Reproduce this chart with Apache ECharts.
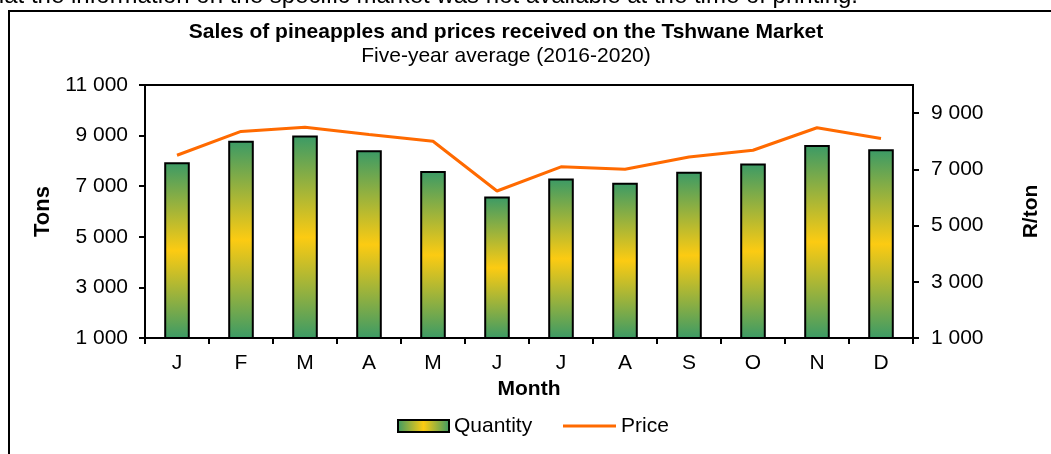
<!DOCTYPE html>
<html>
<head>
<meta charset="utf-8">
<script src="https://cdn.jsdelivr.net/npm/echarts@6/dist/echarts.min.js"></script>
<style>
html,body{margin:0;padding:0;background:#fff;}
#chart{width:1051px;height:454px;}
</style>
</head>
<body>
<div id="chart"></div>
<script>
var months = ['J','F','M','A','M','J','J','A','S','O','N','D'];
var quantity = [7950, 8800, 9000, 8420, 7600, 6590, 7300, 7140, 7570, 7900, 8630, 8460];
var price = [7500, 8350, 8500, 8240, 8000, 6230, 7090, 7000, 7440, 7680, 8480, 8100];
var leftTicks = [1000, 3000, 5000, 7000, 9000, 11000];
var rightTicks = [1000, 3000, 5000, 7000, 9000];
var seriesNames = ['Quantity', 'Price'];

var FONT = 'Liberation Sans, Arial, sans-serif';
var FS = 21;
function fmt(v){ return String(v).replace(/\B(?=(\d{3})+(?!\d))/g, ' '); }

var GREEN = '#3a9a66', YELLOW = '#fccb12', ORANGE = '#ff6a00';
var chart = echarts.init(document.getElementById('chart'));
var barGrad = new echarts.graphic.LinearGradient(0,0,0,1,[
  {offset:0,color:GREEN},{offset:0.5,color:YELLOW},{offset:1,color:GREEN}
]);
var legendGrad = new echarts.graphic.LinearGradient(0,0,1,0,[
  {offset:0,color:GREEN},{offset:0.5,color:YELLOW},{offset:1,color:GREEN}
]);
chart.setOption({
  backgroundColor:'#fff',
  animation:false,
  textStyle:{fontFamily:FONT},
  title:{
    text:'Sales of pineapples and prices received on the Tshwane Market',
    subtext:'Five-year average (2016-2020)',
    left:501, top:17, textAlign:'center', itemGap:3,
    textStyle:{fontFamily:FONT,fontSize:21,fontWeight:'bold',color:'#000'},
    subtextStyle:{fontFamily:FONT,fontSize:21,color:'#000'}
  },
  graphic:[
    {type:'rect', shape:{x:9,y:11,width:1100,height:500}, style:{fill:'none',stroke:'#000',lineWidth:2}, z:0},
    {type:'text', x:858, y:8, style:{text:'that the information on the specific market was not available at the time of printing.', fontFamily:FONT, fontSize:24, fill:'#000', align:'right', verticalAlign:'bottom'}},
    {type:'rect', shape:{x:398,y:420,width:51,height:12}, style:{fill:legendGrad,stroke:'#000',lineWidth:2}},
    {type:'text', x:454, y:426, style:{text:seriesNames[0], fontFamily:FONT, fontSize:FS, fill:'#000', align:'left', verticalAlign:'middle'}},
    {type:'line', shape:{x1:563,y1:426,x2:616,y2:426}, style:{stroke:ORANGE,lineWidth:3}},
    {type:'text', x:621, y:426, style:{text:seriesNames[1], fontFamily:FONT, fontSize:FS, fill:'#000', align:'left', verticalAlign:'middle'}}
  ],
  grid:{left:145, right:138, top:85, bottom:116, show:true, borderColor:'#000', borderWidth:2, containLabel:false},
  xAxis:{
    type:'category', data:months, boundaryGap:true,
    axisLine:{lineStyle:{color:'#000',width:2}},
    axisTick:{show:true, alignWithLabel:false, length:6, lineStyle:{color:'#000',width:2}},
    axisLabel:{color:'#000', fontSize:FS, fontFamily:FONT, margin:15},
    name:'Month', nameLocation:'middle', nameGap:41,
    nameTextStyle:{fontFamily:FONT,fontSize:21,fontWeight:'bold',color:'#000'}
  },
  yAxis:[
    {
      type:'value', min:1000, max:11000, position:'left',
      splitLine:{show:false},
      axisLine:{show:true, lineStyle:{color:'#000',width:2}},
      axisTick:{show:true, length:6, customValues:leftTicks, lineStyle:{color:'#000',width:2}},
      axisLabel:{color:'#000', fontSize:FS, fontFamily:FONT, margin:17, customValues:leftTicks, formatter:fmt},
      name:'Tons', nameLocation:'middle', nameRotate:90, nameGap:87,
      nameTextStyle:{fontFamily:FONT,fontSize:22,fontWeight:'bold',color:'#000'}
    },
    {
      type:'value', min:1000, max:10000, position:'right',
      splitLine:{show:false},
      axisLine:{show:true, lineStyle:{color:'#000',width:2}},
      axisTick:{show:true, length:6, customValues:rightTicks, lineStyle:{color:'#000',width:2}},
      axisLabel:{color:'#000', fontSize:FS, fontFamily:FONT, margin:18, customValues:rightTicks, formatter:fmt},
      name:'R/ton', nameLocation:'middle', nameRotate:90, nameGap:108,
      nameTextStyle:{fontFamily:FONT,fontSize:21,fontWeight:'bold',color:'#000'}
    }
  ],
  series:[
    {
      name:seriesNames[0], type:'bar', yAxisIndex:0, data:quantity, barWidth:'40%',
      itemStyle:{color:barGrad, borderColor:'#000', borderWidth:2}
    },
    {
      name:seriesNames[1], type:'line', yAxisIndex:1, data:price, symbol:'none', showSymbol:false,
      lineStyle:{color:ORANGE, width:3}, itemStyle:{color:ORANGE}
    }
  ]
});
</script>
</body>
</html>
